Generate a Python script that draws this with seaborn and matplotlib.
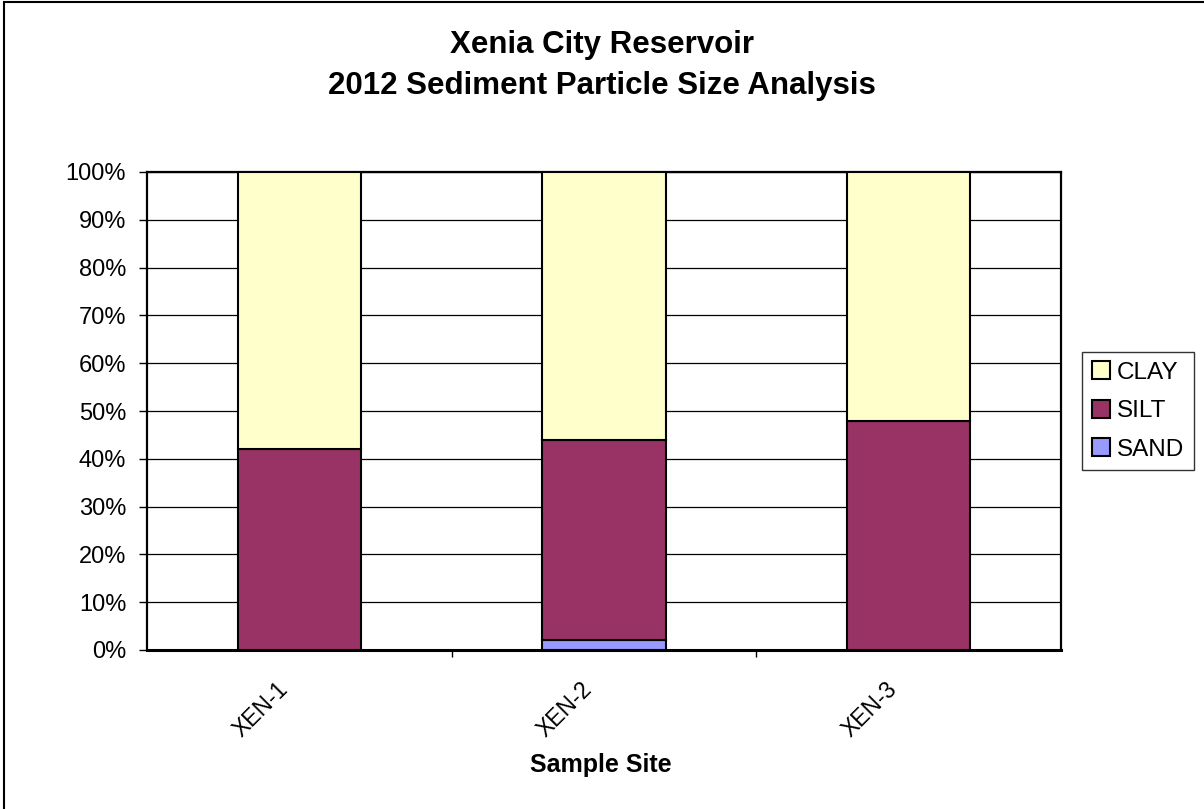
import matplotlib
matplotlib.use("Agg")
import matplotlib.pyplot as plt
import matplotlib.transforms as mtransforms
from matplotlib.patches import Patch, Rectangle
import numpy as np
import pandas as pd
import seaborn as sns

# Sediment composition per sample site (fraction of total)
sites = ["XEN-1", "XEN-2", "XEN-3"]
sand = [0.00, 0.02, 0.00]
silt = [0.42, 0.42, 0.48]
clay = [0.58, 0.56, 0.52]

y_ticks = [0.0, 0.1, 0.2, 0.3, 0.4, 0.5, 0.6, 0.7, 0.8, 0.9, 1.0]
y_tick_labels = ["0%", "10%", "20%", "30%", "40%", "50%", "60%", "70%", "80%", "90%", "100%"]

colors = {"CLAY": "#FFFFCC", "SILT": "#993366", "SAND": "#9999FF"}

sns.set_theme(style="white")
plt.rcParams["font.family"] = ["Liberation Sans", "DejaVu Sans"]
plt.rcParams.update({"text.color": "black", "axes.labelcolor": "black",
                     "xtick.color": "black", "ytick.color": "black"})

W, H = 1204, 809
fig = plt.figure(figsize=(W / 100, H / 100), dpi=100)
ax = fig.add_axes([147 / W, 1 - 650 / H, (1061 - 147) / W, (650 - 172) / H])

df = pd.DataFrame({"site": sites, "SAND": sand, "SILT": silt, "CLAY": clay})
df["silt_base"] = df["SAND"]
df["clay_base"] = df["SAND"] + df["SILT"]

bar_kw = dict(width=0.404, edgecolor="black", linewidth=1.5, saturation=1, ax=ax, zorder=3)
sns.barplot(data=df, x="site", y="SAND", color=colors["SAND"], **bar_kw)
sns.barplot(data=df, x="site", y="SILT", bottom=df["silt_base"], color=colors["SILT"], **bar_kw)
sns.barplot(data=df, x="site", y="CLAY", bottom=df["clay_base"], color=colors["CLAY"], **bar_kw)

ax.set_xlim(-0.5, len(sites) - 0.5)
ax.set_ylim(0, 1)
ax.set_yticks(y_ticks)
ax.set_yticklabels(y_tick_labels, fontsize=17)
ax.yaxis.grid(True, color="black", linewidth=0.9)
ax.set_axisbelow(True)
ax.tick_params(axis="y", which="major", left=True, length=6, width=1, color="black", pad=9)

# Category labels without major ticks, separator ticks between sites
ax.set_xticks(range(len(sites)))
ax.set_xticklabels(sites, fontsize=16.5, rotation=45, ha="right", va="top")
ax.tick_params(axis="x", which="major", bottom=False, length=0, pad=20)
ax.set_xticks([0.5, 1.5], minor=True)
ax.tick_params(axis="x", which="minor", bottom=True, length=5, width=1, color="black")
shift = mtransforms.ScaledTranslation(-7 / 100, 0, fig.dpi_scale_trans)
for lbl in ax.get_xticklabels():
    lbl.set_transform(lbl.get_transform() + shift)

for side in ["left", "top", "right"]:
    ax.spines[side].set_color("black")
    ax.spines[side].set_linewidth(1.6)
ax.spines["bottom"].set_color("black")
ax.spines["bottom"].set_linewidth(2.2)

ax.set_ylabel("")
ax.set_xlabel("Sample Site", fontsize=18, fontweight="bold")
ax.xaxis.set_label_coords(0.496, -0.215)

fig.suptitle("Xenia City Reservoir\n2012 Sediment Particle Size Analysis",
             fontsize=22.5, fontweight="bold", x=0.5, y=1 - 30 / H, va="top",
             linespacing=1.48)

handles = [Patch(facecolor=colors[k], edgecolor="black", linewidth=1.5, label=k)
           for k in ["CLAY", "SILT", "SAND"]]
leg = fig.legend(handles=handles, loc="center left",
                 bbox_to_anchor=(1082 / W, 1 - 411 / H),
                 fontsize=17.5, frameon=True, fancybox=False, shadow=False,
                 handlelength=0.75, handleheight=0.75, handletextpad=0.28,
                 labelspacing=0.66, borderpad=0.4, borderaxespad=0)
leg.get_frame().set_edgecolor("black")
leg.get_frame().set_linewidth(1.0)

# Chart area outline
fig.patches.append(Rectangle((4 / W, -0.05), 1.1, 1 - 2 / H + 0.05,
                             transform=fig.transFigure, fill=False,
                             edgecolor="black", linewidth=1.5))

fig.savefig("out.png", dpi=100, facecolor="white")
